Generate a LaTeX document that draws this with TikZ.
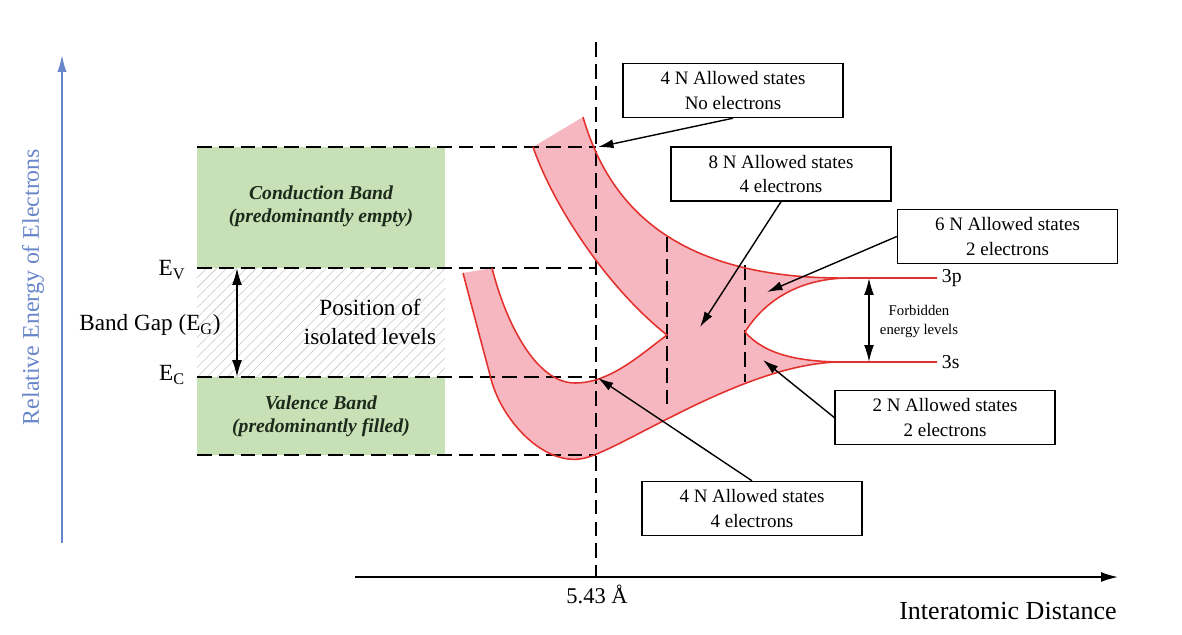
\documentclass[tikz,border=0pt]{standalone}
\usepackage{fontspec}
\setmainfont{Liberation Serif}
\usetikzlibrary{arrows.meta,patterns.meta}
\definecolor{bandgreen}{RGB}{200,224,182}
\definecolor{bandpink}{RGB}{247,183,192}
\definecolor{bandred}{RGB}{226,48,44}
\definecolor{axisblue}{RGB}{104,134,202}
\definecolor{labelgreen}{RGB}{28,42,28}

\begin{document}
\begin{tikzpicture}[x=0.025cm, y=-0.025cm,
    level/.style={dash pattern=on 10.5pt off 5pt, line width=1.4pt},
    callout/.style={draw, line width=1pt, fill=white, minimum width=5.5cm, minimum height=1.35cm,
      align=center, inner sep=2pt, font=\fontsize{13.5}{17.5}\selectfont},
    pointer/.style={line width=1pt, -{Latex[length=11pt,width=6.5pt]}},
    twoway/.style={line width=1.2pt, {Latex[length=12pt,width=7pt]}-{Latex[length=12pt,width=7pt]}},
    bandline/.style={bandred, line width=1.1pt},
    bandname/.style={align=center, text=labelgreen, font=\fontsize{14}{16.5}\selectfont\bfseries\itshape},
    plain/.style={align=center, font=\fontsize{16.5}{20.5}\selectfont}]
    \useasboundingbox (0,0) rectangle (1182,634);

    % energy axis
    \coordinate (eorig) at (62,543);
    \coordinate (etop) at (62,55);
    \draw[axisblue, line width=1.2pt, -{Latex[length=12pt,width=6.5pt]}] (eorig) -- (etop);
    \node[text=axisblue, rotate=90, font=\fontsize{17}{20}\selectfont] (elab) at (33,287) {Relative Energy of Electrons};

    % isolated atom side
    \fill[bandgreen] (197,147) rectangle (445,268);
    \fill[bandgreen] (197,377) rectangle (445,455);
    \fill[pattern={Lines[angle=45,distance=5pt,line width=0.4pt]}, pattern color=gray!45] (197,268) rectangle (445,377);

    % bands
    \coordinate (ctip) at (583,117);
    \coordinate (cleft) at (533,147);
    \coordinate (vleft) at (463,273);
    \coordinate (vtip) at (492,268);
    \coordinate (pjoin) at (850,278);
    \coordinate (sjoin) at (845,362);
    \coordinate (rcusp) at (745,332);
    \coordinate (lcusp) at (667,335);
    \coordinate (pend) at (937,278);
    \coordinate (send) at (937,362);
    \fill[bandpink] (ctip) .. controls (610,210) and (680,280) .. (pjoin)
        .. controls (800,278) and (765,300) .. (rcusp)
        .. controls (765,355) and (800,362) .. (sjoin)
        .. controls (750,360) and (625,448) .. (585,458)
        .. controls (545,468) and (500,420) .. (490,375)
        .. controls (478,330) .. (vleft)
        -- (vtip)
        .. controls (505,320) and (535,383) .. (575,383)
        .. controls (610,383) and (640,355) .. (lcusp)
        .. controls (610,290) and (555,210) .. (cleft)
        -- cycle;

    % levels
    \draw[level] (197,147) -- (596,147);
    \draw[level] (197,268) -- (596,268);
    \draw[level] (197,377) -- (596,377);
    \draw[level] (197,455) -- (596,455);
    \draw[level] (596,42) -- (596,577);
    \draw[level] (667,237) -- (667,410);
    \draw[level] (745,265) -- (745,382);

    \draw[bandline] (ctip) .. controls (610,210) and (680,280) .. (pjoin) -- (pend);
    \draw[bandline] (pjoin) .. controls (800,278) and (765,300) .. (rcusp)
        .. controls (765,355) and (800,362) .. (sjoin);
    \draw[bandline] (send) -- (sjoin) .. controls (750,360) and (625,448) .. (585,458)
        .. controls (545,468) and (500,420) .. (490,375)
        .. controls (478,330) .. (vleft);
    \draw[bandline] (vtip) .. controls (505,320) and (535,383) .. (575,383)
        .. controls (610,383) and (640,355) .. (lcusp)
        .. controls (610,290) and (555,210) .. (cleft);

    % labels
    \node[bandname] (cb) at (321,206) {Conduction Band\\(predominantly empty)};
    \node[bandname] (vb) at (321,416) {Valence Band\\(predominantly filled)};
    \node[plain] (pos) at (370,322) {Position of\\isolated levels};
    \node[plain] (evlab) at (172,270) {E\textsubscript{V}};
    \node[plain] (eclab) at (172,375) {E\textsubscript{C}};
    \node[plain] (bglab) at (150,325) {Band Gap (E\textsubscript{G})};
    \coordinate (ev) at (237,268);
    \coordinate (ec) at (237,377);
    \draw[twoway] (ev) -- (ec);
    \node[font=\fontsize{14}{16}\selectfont, anchor=west] (plab) at (pend) {3p};
    \node[font=\fontsize{14}{16}\selectfont, anchor=west] (slab) at (send) {3s};
    \coordinate (ptop) at (869,278);
    \coordinate (sbot) at (869,362);
    \draw[twoway] (ptop) -- (sbot);
    \node[align=center, font=\fontsize{10.5}{13.5}\selectfont] (forb) at (919,321) {Forbidden\\energy levels};

    % callouts
    \node[callout] (bcond) at (733,90.5) {4 N Allowed states\\No electrons};
    \node[callout] (bmix) at (781,174) {8 N Allowed states\\4 electrons};
    \node[callout] (bp) at (1007.5,236.5) {6 N Allowed states\\2 electrons};
    \node[callout] (bs) at (945,417.5) {2 N Allowed states\\2 electrons};
    \node[callout] (bval) at (752,508.5) {4 N Allowed states\\4 electrons};
    \coordinate (cbmin) at (598,147);
    \coordinate (mixpt) at (700,327);
    \coordinate (ppt) at (767,292);
    \coordinate (spt) at (763,360);
    \coordinate (vbmax) at (598,378);
    \draw[pointer] (bcond.south) -- (cbmin);
    \draw[pointer] (bmix.south) -- (mixpt);
    \draw[pointer] (bp.west) -- (ppt);
    \draw[pointer] (bs.west) -- (spt);
    \draw[pointer] (bval.north) -- (vbmax);

    % distance axis
    \coordinate (dorig) at (355,577);
    \coordinate (dend) at (1118,577);
    \draw[line width=1.1pt, -{Latex[length=12pt,width=7pt]}] (dorig) -- (dend);
    \node[font=\fontsize{16}{18}\selectfont] (alat) at (597,594) {5.43 Å};
    \node[font=\fontsize{18.5}{21}\selectfont] (dlab) at (1008,611) {Interatomic Distance};
\end{tikzpicture}
\end{document}
